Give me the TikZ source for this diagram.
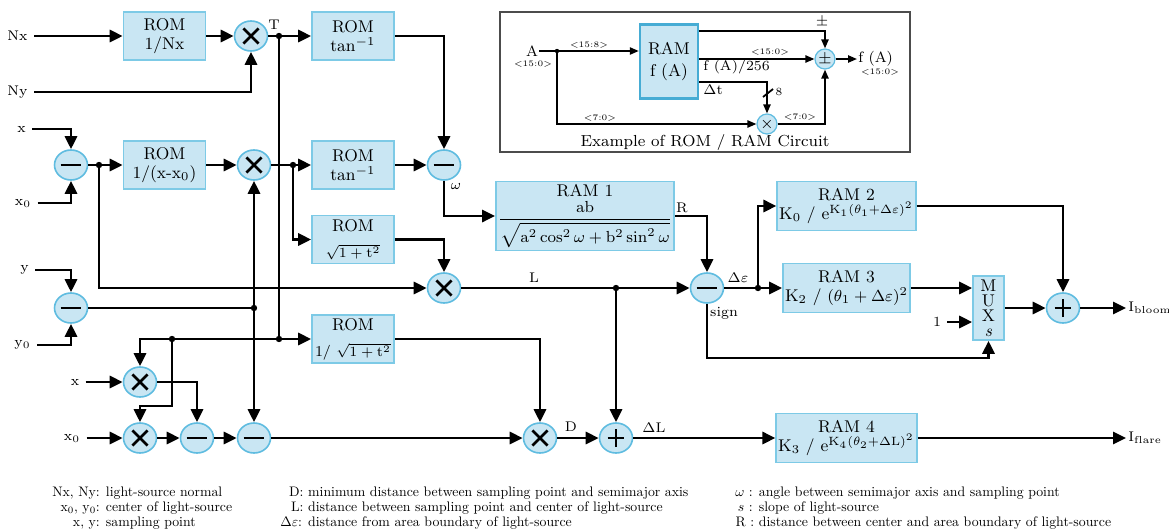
\documentclass[tikz,border=0pt]{standalone}
\usetikzlibrary{arrows.meta,shapes.geometric}

\definecolor{blockfill}{RGB}{201,230,243}
\definecolor{blockline}{RGB}{125,202,230}
\definecolor{opline}{RGB}{95,188,224}
\definecolor{ramline}{RGB}{70,172,212}

\tikzset{
  wire/.style={line width=1.4pt},
  arr/.style={wire, -{Triangle[length=6.5pt,width=6pt]}},
  iwire/.style={line width=0.9pt},
  iarr/.style={iwire, -{Triangle[length=4.5pt,width=3.6pt]}},
  block/.style={draw=blockline, fill=blockfill, line width=0.8pt, align=center, inner sep=1pt, font=\fontsize{8.5}{9.5}\selectfont},
  rombox/.style={block, minimum width=41pt, minimum height=24pt},
  rambox/.style={block, minimum width=63.5pt, minimum height=24.5pt},
  op/.style={ellipse, draw=opline, fill=blockfill, line width=0.8pt, minimum width=16.5pt, minimum height=15pt, inner sep=0pt},
  mulop/.style={op, path picture={
      \draw[black, line width=1.4pt] ([shift={(-3.8pt,-3.8pt)}]path picture bounding box.center) -- ([shift={(3.8pt,3.8pt)}]path picture bounding box.center)
        ([shift={(-3.8pt,3.8pt)}]path picture bounding box.center) -- ([shift={(3.8pt,-3.8pt)}]path picture bounding box.center);}},
  subop/.style={op, path picture={
      \draw[black, line width=1.4pt] ([xshift=-5.2pt]path picture bounding box.center) -- ([xshift=5.2pt]path picture bounding box.center);}},
  addop/.style={op, path picture={
      \draw[black, line width=1.4pt] ([xshift=-4.2pt]path picture bounding box.center) -- ([xshift=4.2pt]path picture bounding box.center)
        ([yshift=-4.5pt]path picture bounding box.center) -- ([yshift=4.5pt]path picture bounding box.center);}},
  lbl/.style={font=\fontsize{7}{8}\selectfont, inner sep=0.5pt},
  inlbl/.style={font=\fontsize{7}{8}\selectfont, inner sep=0pt, inner xsep=3pt},
  ilbl/.style={font=\fontsize{4.2}{5}\selectfont, inner sep=0pt},
  iop/.style={circle, draw=opline, fill=blockfill, line width=0.6pt, minimum size=10pt, inner sep=0pt, font=\fontsize{8}{8}\selectfont},
  keytab/.style={anchor=north west, inner sep=0pt, scale=0.69, transform shape, font=\fontsize{10}{10.9}\selectfont},
}
\newcommand{\rootline}[1]{{\fontsize{7.5}{8}\selectfont #1}}

\begin{document}
\begin{tikzpicture}[x=0.5pt,y=-0.5pt]
  \useasboundingbox (0,0) rectangle (1169,531);
  % Inputs
  \node[inlbl] (inNx) at (17.5,36) {Nx};
  \node[inlbl] (inNy) at (17.5,92) {Ny};
  \node[inlbl] (inx) at (21.5,129) {x};
  \node[inlbl] (inxo) at (23,203) {x$_0$};
  \node[inlbl] (iny) at (24.5,270) {y};
  \node[inlbl] (inyo) at (22.5,345) {y$_0$};
  \node[inlbl] (inxb) at (75,382) {x};
  \node[inlbl] (inxob) at (72,438) {x$_0$};
  \node[inlbl] (inOne) at (937,322) {1};
  % Blocks
  \node[rombox] (romNx) at (164.5,36) {ROM\\1/Nx};
  \node[mulop] (mulT) at (251,36) {};
  \node[rombox] (romAtanA) at (353,36) {ROM\\tan$^{-1}$};
  \node[subop] (subx) at (71,165) {};
  \node[rombox] (romInv) at (164.5,165) {ROM\\1/(x-x$_0$)};
  \node[mulop] (mult) at (254,165) {};
  \node[rombox] (romAtanB) at (353,165) {ROM\\tan$^{-1}$};
  \node[subop] (subW) at (444,165) {};
  \node[rombox] (romSqrt) at (353,239.5) {ROM\\[3.5pt]\rootline{$\sqrt{1+\mathrm{t}^2}$}};
  \node[block, minimum width=85.5pt, minimum height=34.5pt] (ram1) at (585,216)
    {RAM 1\\[1pt]$\displaystyle\frac{\mathrm{ab}}{\sqrt{\mathrm{a}^2\cos^2\omega+\mathrm{b}^2\sin^2\omega}}$};
  \node[subop] (suby) at (71,308) {};
  \node[mulop] (mulL) at (444,288) {};
  \node[subop] (subE) at (707,288) {};
  \node[rambox] (ram2) at (846.5,206) {RAM 2\\K$_0$ / e$^{\mathrm{K}_1(\theta_1+\Delta\varepsilon)^2}$};
  \node[rambox] (ram3) at (846.5,288) {RAM 3\\K$_2$ / $(\theta_1+\Delta\varepsilon)^2$};
  \node[block, minimum width=15.5pt, minimum height=32pt, inner sep=0pt, font=\fontsize{8.5}{7.5}\selectfont] (mux) at (988.5,308) {M\\U\\X\\{\itshape s}};
  \node[addop] (addB) at (1063,308) {};
  \node[rombox] (romInvSqrt) at (353,339) {ROM\\[3.5pt]\rootline{1/ $\sqrt{1+\mathrm{t}^2}$}};
  \node[mulop] (mulx) at (140,382) {};
  \node[mulop] (mulxo) at (140,438) {};
  \node[subop] (subA) at (197,438) {};
  \node[subop] (subB) at (254,438) {};
  \node[mulop] (mulD) at (540,438) {};
  \node[addop] (addL) at (616,438) {};
  \node[rambox] (ram4) at (846.5,438) {RAM 4\\K$_3$ / e$^{\mathrm{K}_4(\theta_2+\Delta\mathrm{L})^2}$};
  \node[lbl, anchor=west, inner sep=1pt] (outB) at (1126,308) {I$_{\mathrm{bloom}}$};
  \node[lbl, anchor=west, inner sep=1pt] (outF) at (1126,438) {I$_{\mathrm{flare}}$};
  % Junctions
  \coordinate (jT) at (279,36);
  \coordinate (jTb) at (279,339);
  \coordinate (jS) at (172,339);
  \coordinate (cS) at (172,406);
  \coordinate (jX) at (99,165);
  \coordinate (jt) at (293,165);
  \coordinate (jy) at (254,308);
  \coordinate (jL) at (616,288);
  \coordinate (jE) at (758,288);
  \coordinate (cSign) at (707,358);
  % Wires
  \draw[arr] (inNx) -- (romNx);
  \draw[arr] (romNx) -- (mulT);
  \draw[arr] (inNy.east) -| (mulT.south);
  \draw[arr] (mulT) -- (romAtanA);
  \draw[wire] (jT) -- (jTb);
  \draw[arr] (jTb) -- (romInvSqrt.west);
  \draw[arr] (jTb) -| (mulx.north);
  \draw[arr] (jS) -- (cS) -| (mulxo.north);
  \draw[arr] (romAtanA.east) -| (subW.north);
  \draw[arr] (inx.east) -| (subx.north);
  \draw[arr] (inxo.east) -| (subx.south);
  \draw[arr] (subx) -- (romInv);
  \draw[arr] (jX) |- (mulL.west);
  \draw[arr] (romInv) -- (mult);
  \draw[arr] (mult) -- (romAtanB);
  \draw[arr] (jt) |- (romSqrt.west);
  \draw[arr] (romAtanB) -- (subW);
  \draw[arr] (romSqrt.east) -| (mulL.north);
  \draw[arr] (subW.south) |- (ram1.west);
  \draw[arr] (mulL) -- (subE);
  \draw[arr] (jL) -- (addL.north);
  \draw[arr] (ram1.east) -| (subE.north);
  \draw[arr] (subE) -- (ram3);
  \draw[arr] (jE) |- (ram2.west);
  \draw[arr] (ram3.east) -- (ram3.east -| mux.west);
  \draw[arr] (inOne) -- (inOne -| mux.west);
  \draw[arr] (mux) -- (addB);
  \draw[arr] (ram2.east) -| (addB.north);
  \draw[arr] (addB) -- (outB);
  \draw[arr] (subE.south) -- (cSign) -| (mux.south);
  \draw[wire] (suby) -- (jy);
  \draw[arr] (jy) -- (mult.south);
  \draw[arr] (jy) -- (subB.north);
  \draw[arr] (iny.east) -| (suby.north);
  \draw[arr] (inyo.east) -| (suby.south);
  \draw[arr] (inxb) -- (mulx);
  \draw[arr] (inxob) -- (mulxo);
  \draw[arr] (mulx.east) -| (subA.north);
  \draw[arr] (mulxo) -- (subA);
  \draw[arr] (subA) -- (subB);
  \draw[arr] (subB) -- (mulD);
  \draw[arr] (romInvSqrt.east) -| (mulD.north);
  \draw[arr] (mulD) -- (addL);
  \draw[arr] (addL) -- (ram4);
  \draw[arr] (ram4) -- (outF);
  \foreach \p in {jT,jTb,jS,jX,jt,jy,jL,jE} \fill (\p) circle (1.6pt);
  % Signal names
  \node[lbl] (lblT) at (274,25) {T};
  \node[lbl] (lblW) at (456,186) {$\omega$};
  \node[lbl] (lblR) at (682,208) {R};
  \node[lbl] (lblL) at (534,278) {L};
  \node[lbl] (lblE) at (738,278) {$\Delta\varepsilon$};
  \node[lbl] (lblSign) at (724,313) {sign};
  \node[lbl] (lblD) at (571,427) {D};
  \node[lbl] (lblDL) at (654,428) {$\Delta$L};
  % Example of ROM / RAM circuit
  \draw[black!70, line width=0.6pt] (500,12) rectangle (910,152);
  \node[lbl, font=\fontsize{7.5}{8}\selectfont] (inA) at (532,51) {A};
  \node[ilbl] (inAbits) at (533,64) {<15:0>};
  \node[block, draw=ramline, line width=1.2pt, minimum width=29pt, minimum height=37pt, font=\fontsize{8.5}{11}\selectfont] (ramF) at (669,61.5) {RAM\\f (A)};
  \node[iop] (addF) at (825,59) {$\pm$};
  \node[iop] (mulF) at (767,124) {$\times$};
  \node[lbl, anchor=west, font=\fontsize{7.5}{8}\selectfont] (outFA) at (857,59) {f (A)};
  \node[ilbl] (outFAbits) at (880,72) {<15:0>};
  \coordinate (jA) at (557,51);
  \draw[iarr] (inA) -- (inA -| ramF.west);
  \draw[iarr] (jA) |- (mulF);
  \draw[iarr] ([yshift=15.25pt]ramF.east) -| (addF.north);
  \draw[iarr] (ramF.east |- addF) -- (addF);
  \draw[iarr] ([yshift=-10.25pt]ramF.east) -| (mulF.north);
  \draw[iarr] (mulF) -| (addF.south);
  \draw[iarr] (addF) -- (outFA);
  \draw[iwire] (763,97) -- (773,89);
  \fill (jA) circle (1.1pt);
  \node[ilbl] (bitsHi) at (589,45) {<15:8>};
  \node[ilbl] (bitsF) at (770,52) {<15:0>};
  \node[lbl, anchor=west] (lblF) at (702,67) {f (A)/256};
  \node[lbl, anchor=west] (lblDt) at (702,90) {$\Delta$t};
  \node[ilbl, font=\fontsize{5.5}{6}\selectfont] (lblEight) at (779,92) {8};
  \node[lbl] (lblPm) at (822,22) {$\pm$};
  \node[ilbl] (bitsLoA) at (600,118) {<7:0>};
  \node[ilbl] (bitsLoB) at (800,117) {<7:0>};
  \node[lbl, font=\fontsize{8}{9}\selectfont] (caption) at (705,142) {Example of ROM / RAM Circuit};
  % Key
  \node[keytab] (keyA) at (52,486) {\begin{tabular}{@{}r@{: }l@{}}Nx, Ny & light-source normal\\ x$_0$, y$_0$ & center of light-source\\ x, y & sampling point\end{tabular}};
  \node[keytab] (keyB) at (280,486) {\begin{tabular}{@{}r@{: }l@{}}D & minimum distance between sampling point and semimajor axis\\ L & distance between sampling point and center of light-source\\ $\Delta\varepsilon$ & distance from area boundary of light-source\end{tabular}};
  \node[keytab] (keyC) at (735,486) {\begin{tabular}{@{}r@{ : }l@{}}$\omega$ & angle between semimajor axis and sampling point\\ $s$ & slope of light-source\\ R & distance between center and area boundary of light-source\end{tabular}};
\end{tikzpicture}
\end{document}
